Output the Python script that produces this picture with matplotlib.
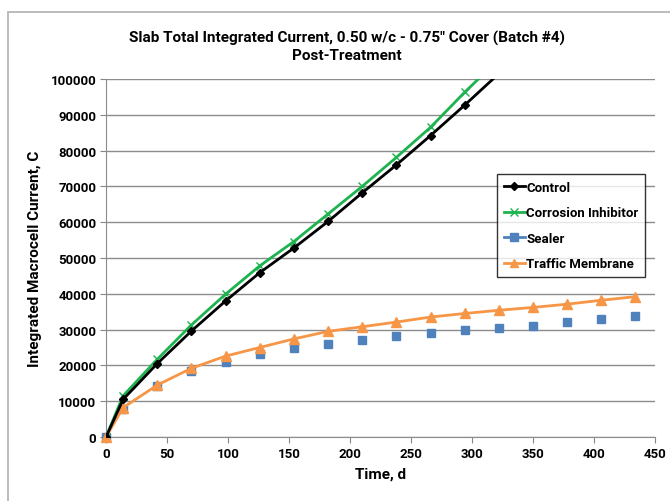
import matplotlib.pyplot as plt
from matplotlib.lines import Line2D
from matplotlib.patches import Rectangle

plt.rcParams['font.family'] = ['Roboto', 'DejaVu Sans']

# time, days
t = [0, 14, 42, 70, 98, 126, 154, 182, 210, 238, 266, 294, 322]
t_all = [0, 14, 42, 70, 98, 126, 154, 182, 210, 238, 266, 294, 322, 350, 378, 406, 434]

control = [0, 10500, 20500, 29600, 38000, 45900, 52800, 60200, 68200, 76000, 84200, 92700, 101500]
inhibitor = [0, 11500, 21700, 31300, 39900, 47800, 54600, 62300, 70000, 78100, 86500, 96300, 105500]
sealer = [0, 7800, 14300, 18300, 21000, 23100, 24800, 26100, 27200, 28100, 29100, 29800,
          30500, 31100, 32000, 32900, 33900]
membrane = [0, 8200, 14500, 19200, 22600, 25000, 27400, 29500, 30800, 32100, 33500, 34500,
            35400, 36200, 37100, 38200, 39200]

fig = plt.figure(figsize=(6.7, 5.02), dpi=100)
ax = fig.add_axes([106 / 670, 1 - 438 / 502, 549 / 670, 358 / 502])

# chart frame
fig.patches.append(Rectangle((8 / 670, -0.1), 1.2, (502 - 13) / 502 + 0.1, transform=fig.transFigure,
                             fill=False, edgecolor='#b0b0b0', lw=1.2))

c_black = 'black'
c_green = '#1DB34F'
c_blue = '#4F81BD'
c_orange = '#F79646'

ax.plot(t, control, color=c_black, lw=2, marker='D', ms=4.5, clip_on=True, zorder=4)
ax.plot(t, inhibitor, color=c_green, lw=2, marker='x', ms=5.5, mew=1.0, clip_on=True, zorder=3)
ax.plot(t_all, sealer, color=c_blue, lw=0, marker='s', ms=6, clip_on=False, zorder=2)
ax.plot(t_all, membrane, color=c_orange, lw=2, marker='^', ms=6.5, clip_on=False, zorder=3)

ax.set_xlim(0, 450)
ax.set_ylim(0, 100000)
ax.set_xticks(range(0, 451, 50))
ax.set_yticks(range(0, 100001, 10000))
ax.tick_params(labelsize=9.5, length=4, color='#888888', pad=3)
for lab in ax.get_xticklabels() + ax.get_yticklabels():
    lab.set_fontweight('bold')
ax.yaxis.grid(True, color='#8c8c8c', lw=1)
ax.set_axisbelow(True)
for s in ['top', 'right']:
    ax.spines[s].set_visible(False)
for s in ['left', 'bottom']:
    ax.spines[s].set_color('#8c8c8c')

ax.set_xlabel('Time, d', fontsize=11, fontweight='bold', labelpad=5)
ax.set_ylabel('Integrated Macrocell Current, C', fontsize=11, fontweight='bold', labelpad=6)
fig.text(0.5 + 12 / 670, 1 - 38 / 502, 'Slab Total Integrated Current, 0.50 w/c - 0.75" Cover (Batch #4)',
         ha='center', va='center', fontsize=11, fontweight='bold')
fig.text(0.5 + 12 / 670, 1 - 56 / 502, 'Post-Treatment', ha='center', va='center',
         fontsize=11, fontweight='bold')

handles = [
    Line2D([], [], color=c_black, lw=2, marker='D', ms=4.5),
    Line2D([], [], color=c_green, lw=2, marker='x', ms=5.5),
    Line2D([], [], color=c_blue, lw=2, marker='s', ms=5.5),
    Line2D([], [], color=c_orange, lw=2, marker='^', ms=6),
]
leg = ax.legend(handles, ['Control', 'Corrosion Inhibitor', 'Sealer', 'Traffic Membrane'],
                loc='upper left', bbox_to_anchor=((497 - 106) / 549, (438 - 175) / 358),
                fontsize=9.5, frameon=True, fancybox=False, handlelength=1.6, handletextpad=0.1,
                labelspacing=0.95, borderpad=0.5, borderaxespad=0)
leg.get_frame().set_edgecolor('black')
leg.get_frame().set_linewidth(1)
for txt in leg.get_texts():
    txt.set_fontweight('bold')

fig.savefig('out.png', dpi=100)
